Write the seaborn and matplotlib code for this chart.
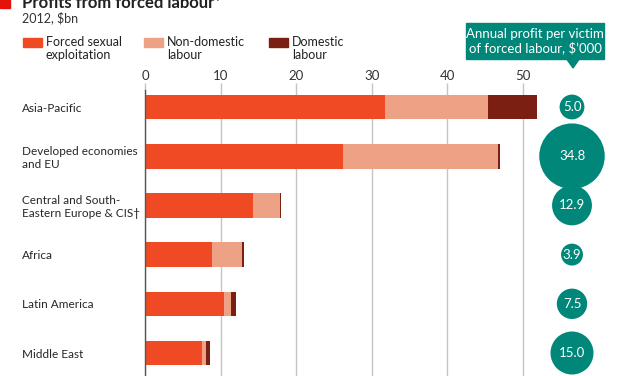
import numpy as np
import matplotlib
matplotlib.use("Agg")
import matplotlib.pyplot as plt
from matplotlib.patches import Rectangle, Polygon
import seaborn as sns

# data, $bn (2012)
regions = ["Asia-Pacific", "Developed economies\nand EU",
           "Central and South-\nEastern Europe & CIS\u2020",
           "Africa", "Latin America", "Middle East"]
sexual = [31.7, 26.2, 14.3, 8.9, 10.4, 7.5]
non_domestic = [13.7, 20.5, 3.6, 3.9, 1.0, 0.6]
domestic = [6.4, 0.2, 0.1, 0.3, 0.6, 0.5]
profit_per_victim = [5.0, 34.8, 12.9, 3.9, 7.5, 15.0]
xticks = [0, 10, 20, 30, 40, 50]
legend_labels = ["Forced sexual\nexploitation", "Non-domestic\nlabour", "Domestic\nlabour"]

c_sex = "#f04a24"
c_nondom = "#eda286"
c_dom = "#7b1f12"
teal = "#00877a"
W, H = 627, 376

sns.set_style("white")
plt.rcParams['font.family'] = ['Lato', 'DejaVu Sans']
plt.rcParams['text.color'] = '#222222'

def fx(px):
    return px / W

def fy(py):
    return 1 - py / H

fig = plt.figure(figsize=(W / 100, H / 100), dpi=100)

# main bar axes
ax = fig.add_axes([fx(145), 0, 53 * 7.56 / W, (H - 90) / H])
tot_b = np.array(sexual) + np.array(non_domestic)
tot_c = tot_b + np.array(domestic)
sns.barplot(x=tot_c, y=regions, color=c_dom, width=0.5, linewidth=0, saturation=1, ax=ax)
sns.barplot(x=tot_b, y=regions, color=c_nondom, width=0.5, linewidth=0, saturation=1, ax=ax)
sns.barplot(x=sexual, y=regions, color=c_sex, width=0.5, linewidth=0, saturation=1, ax=ax)

ax.set_xlim(0, 53)
ax.set_ylim(5 + 23 / 49.2, -17 / 49.2)
ax.set_xticks(xticks)
ax.xaxis.tick_top()
ax.tick_params(axis='x', length=5, color='#c4c4c4', width=1, labelsize=9.5, pad=1, labelcolor='#333333')
ax.tick_params(axis='y', length=0, pad=88.6, labelsize=8.5)
ax.set_yticks(range(len(regions)))
ax.set_yticklabels(regions, ha='left')
ax.set_xlabel('')
ax.set_ylabel('')
ax.grid(axis='x', color='#c4c4c4', linewidth=1)
ax.grid(axis='y', visible=False)
ax.set_axisbelow(True)
for s in ['top', 'right', 'bottom']:
    ax.spines[s].set_visible(False)
ax.spines['left'].set_color('#555555')
ax.spines['left'].set_linewidth(1)

# bubble axes
bx = fig.add_axes([fx(530), 0, fx(84), (H - 90) / H])
k = (43 * 0.72) ** 2 / 15
sns.scatterplot(x=[0.5] * len(regions), y=list(range(len(regions))), size=profit_per_victim,
                sizes=(k * min(profit_per_victim), k * max(profit_per_victim)),
                color=teal, edgecolor='none', legend=False, ax=bx, clip_on=False)
for i, v in enumerate(profit_per_victim):
    bx.text(0.5, i, f"{v:.1f}", color='white', ha='center', va='center', fontsize=9.5)
bx.set_xlim(0, 1)
bx.set_ylim(ax.get_ylim())
bx.axis('off')

# title block
fig.patches.append(Rectangle((0, fy(8)), fx(10), 8 / H, transform=fig.transFigure,
                             color='#e3120b', figure=fig))
fig.text(fx(22), fy(8), "Profits from forced labour*", fontsize=12, fontweight='bold',
         va='baseline', ha='left')
fig.text(fx(22), fy(18), "2012, $bn", fontsize=9, va='center', ha='left', color='#333333')

# legend
for (x0, lab, col) in zip([23, 144, 269], legend_labels, [c_sex, c_nondom, c_dom]):
    fig.patches.append(Rectangle((fx(x0), fy(47)), fx(19), 9 / H, transform=fig.transFigure,
                                 color=col, figure=fig))
    fig.text(fx(x0 + 23), fy(36), lab, fontsize=9, va='top', ha='left', linespacing=1.1)

# callout box
fig.patches.append(Rectangle((fx(466), fy(59)), fx(138), 36 / H, transform=fig.transFigure,
                             color=teal, figure=fig))
fig.patches.append(Polygon([(fx(566), fy(58)), (fx(580), fy(58)), (fx(573), fy(68))],
                           closed=True, transform=fig.transFigure, color=teal, figure=fig))
fig.text(fx(535), fy(41), "Annual profit per victim\nof forced labour, $\u2019000", color='white',
         fontsize=9.5, ha='center', va='center', linespacing=1.05)

fig.savefig("out.png", dpi=100)
